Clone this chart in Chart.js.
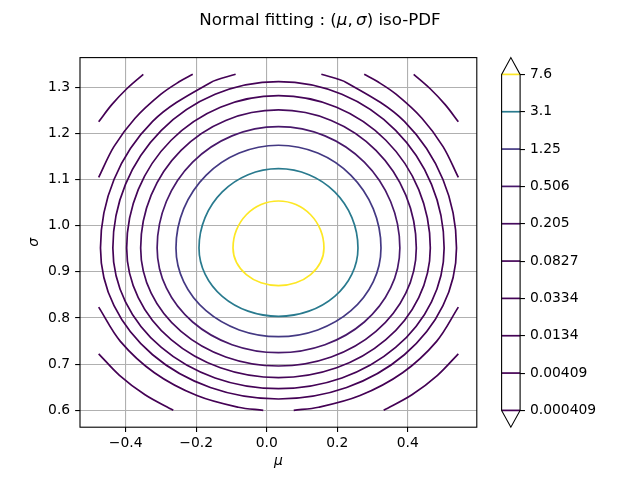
<!DOCTYPE html>
<html><head><meta charset="utf-8">
<script src="https://cdn.jsdelivr.net/npm/chart.js@4"></script>
<style>
html,body{margin:0;padding:0;background:#fff;}
#wrap{position:relative;width:640px;height:480px;overflow:hidden;}
#main{position:absolute;left:0;top:0;}
#cbar{position:absolute;left:480px;top:0;}
</style></head>
<body>
<div id="wrap">
<canvas id="main" width="640" height="480"></canvas>
<canvas id="cbar" width="160" height="480"></canvas>
</div>
<script>
// ---------------- data ----------------
const levels = [7.6, 3.1, 1.25, 0.506, 0.205, 0.0827, 0.0334, 0.0134, 0.00409, 0.000409];
const levelLabels = ['7.6','3.1','1.25','0.506','0.205','0.0827','0.0334','0.0134','0.00409','0.000409'];
const xTicks = [-0.4, -0.2, 0.0, 0.2, 0.4];
const xTickLabels = ['\u22120.4','\u22120.2','0.0','0.2','0.4'];
const yTicks = [0.6, 0.7, 0.8, 0.9, 1.0, 1.1, 1.2, 1.3];
const yTickLabels = ['0.6','0.7','0.8','0.9','1.0','1.1','1.2','1.3'];
const xLabel = '\u03bc';
const yLabel = '\u03c3';
const titleParts = [['Normal fitting : (', false], ['\u03bc', true], [',', false], [' ', false], ['\u03c3', true], [') iso-PDF', false]];

// iso-PDF contour lines, points (mu, sigma)
const iso7_6 = [[-0.0955,0.952],[-0.0857,0.9909],[-0.0577,1.0238],[-0.0159,1.0459],[0.0335,1.0536],[0.0829,1.0459],[0.1247,1.0238],[0.1527,0.9909],[0.1625,0.952],[0.1527,0.9207],[0.1247,0.8941],[0.0829,0.8763],[0.0335,0.8701],[-0.0159,0.8763],[-0.0577,0.8941],[-0.0857,0.9207]];
const iso3_1 = [[-0.192,0.952],[-0.1748,1.0177],[-0.126,1.0734],[-0.0528,1.1106],[0.0335,1.1237],[0.1198,1.1106],[0.193,1.0734],[0.2418,1.0177],[0.259,0.952],[0.2418,0.8953],[0.193,0.8471],[0.1198,0.815],[0.0335,0.8037],[-0.0528,0.815],[-0.126,0.8471],[-0.1748,0.8953]];
const iso1_25 = [[-0.2573,0.952],[-0.2352,1.0371],[-0.1721,1.1093],[-0.0778,1.1575],[0.0335,1.1744],[0.1448,1.1575],[0.2391,1.1093],[0.3022,1.0371],[0.3243,0.952],[0.3022,0.8783],[0.2391,0.8159],[0.1448,0.7742],[0.0335,0.7595],[-0.0778,0.7742],[-0.1721,0.8159],[-0.2352,0.8783]];
const iso0_506 = [[-0.3108,0.952],[-0.2846,1.0525],[-0.21,1.1378],[-0.0983,1.1947],[0.0335,1.2147],[0.1653,1.1947],[0.277,1.1378],[0.3516,1.0525],[0.3778,0.952],[0.3516,0.8651],[0.277,0.7914],[0.1653,0.7422],[0.0335,0.7249],[-0.0983,0.7422],[-0.21,0.7914],[-0.2846,0.8651]];
const iso0_205 = [[-0.3575,0.952],[-0.3277,1.0664],[-0.243,1.1634],[-0.1161,1.2282],[0.0335,1.2509],[0.1831,1.2282],[0.31,1.1634],[0.3947,1.0664],[0.4245,0.952],[0.3947,0.854],[0.31,0.771],[0.1831,0.7155],[0.0335,0.696],[-0.1161,0.7155],[-0.243,0.771],[-0.3277,0.854]];
const iso0_0827 = [[-0.3972,0.952],[-0.3644,1.0783],[-0.2711,1.1853],[-0.1313,1.2568],[0.0335,1.2819],[0.1983,1.2568],[0.3381,1.1853],[0.4314,1.0783],[0.4642,0.952],[0.4314,0.8444],[0.3381,0.7531],[0.1983,0.6921],[0.0335,0.6707],[-0.1313,0.6921],[-0.2711,0.7531],[-0.3644,0.8444]];
const iso0_0334 = [[-0.4364,0.952],[-0.4006,1.0898],[-0.2988,1.2067],[-0.1463,1.2848],[0.0335,1.3122],[0.2133,1.2848],[0.3658,1.2067],[0.4676,1.0898],[0.5034,0.952],[0.4676,0.8352],[0.3658,0.7362],[0.2133,0.67],[0.0335,0.6468],[-0.1463,0.67],[-0.2988,0.7362],[-0.4006,0.8352]];
const iso0_0134 = [[-0.0881,1.3282],[-0.1598,1.3101],[-0.3236,1.2261],[-0.4331,1.1003],[-0.4715,0.952],[-0.4331,0.8267],[-0.3236,0.7204],[-0.1598,0.6494],[0.0335,0.6245],[0.2268,0.6494],[0.3906,0.7204],[0.5001,0.8267],[0.5385,0.952],[0.5001,1.1003],[0.3906,1.2261],[0.2268,1.3101],[0.1551,1.3282]];
const iso0_00409 = [
  [[-0.4766,1.1047],[-0.4334,1.1714],[-0.3734,1.233],[-0.2999,1.2851],[-0.2485,1.3119],[-0.2097,1.3282]],
  [[0.2767,1.3282],[0.3155,1.3119],[0.3669,1.2851],[0.4404,1.233],[0.5004,1.1714],[0.5437,1.1047]],
  [[-0.4766,0.8236],[-0.4151,0.7495],[-0.3185,0.6815],[-0.1979,0.632],[-0.0804,0.6066],[-0.0097,0.6]],
  [[0.0767,0.6],[0.1474,0.6066],[0.2649,0.632],[0.3855,0.6815],[0.4821,0.7495],[0.5437,0.8236]]
];
const iso0_000409 = [
  [[-0.4766,1.2254],[-0.4394,1.2624],[-0.3969,1.2969],[-0.35,1.3282]],
  [[0.417,1.3282],[0.4639,1.2969],[0.5064,1.2624],[0.5437,1.2254]],
  [[-0.4766,0.7225],[-0.4176,0.6758],[-0.3451,0.6337],[-0.2649,0.6]],
  [[0.3319,0.6],[0.4121,0.6337],[0.4846,0.6758],[0.5437,0.7225]]
];

// ---------------- styles ----------------
const contourColors = ['#fde725','#297a8e','#443983','#48186b','#460b5e','#450558','#440356','#440255','#440154','#440154'];
const FONT = 'DejaVu Sans';
const TICK_SIZE = 13.89;
const TITLE_SIZE = 16.67;
const LINE_W = 1.7;
Chart.defaults.font.family = FONT;
Chart.defaults.color = '#000';

// closed loop: wrap one point before and one after so every drawn junction is smooth;
// the two wrap segments themselves are hidden
function closeLoop(a) { return [a[a.length - 1]].concat(a, [a[0], a[1]]); }
const contourPieces = [
  [closeLoop(iso7_6)], [closeLoop(iso3_1)], [closeLoop(iso1_25)], [closeLoop(iso0_506)],
  [closeLoop(iso0_205)], [closeLoop(iso0_0827)], [closeLoop(iso0_0334)],
  [iso0_0134], iso0_00409, iso0_000409
];
const closedCount = 7;
const datasets = [];
contourPieces.forEach((pieces, k) => pieces.forEach(p => {
  const n = p.length;
  const ds = {
    data: p.map(([x, y]) => ({x, y})),
    borderColor: contourColors[k], borderWidth: LINE_W,
    pointRadius: 0, pointHoverRadius: 0, tension: 0.34, fill: false
  };
  if (k < closedCount) {
    ds.segment = {
      borderColor: c => (c.p0DataIndex === 0 || c.p0DataIndex === n - 2) ? 'rgba(0,0,0,0)' : undefined
    };
  }
  datasets.push(ds);
}));

const framePlugin = {
  id: 'frame',
  afterDatasetsDraw(chart) {
    const {left, right, top, bottom} = chart.chartArea;
    const ctx = chart.ctx;
    ctx.save();
    ctx.strokeStyle = '#000';
    ctx.lineWidth = 1.1;
    ctx.strokeRect(left, top, right - left, bottom - top);
    ctx.restore();
  }
};

const titlePlugin = {
  id: 'figTitle',
  afterDraw(chart) {
    const ctx = chart.ctx;
    ctx.save();
    ctx.fillStyle = '#000';
    ctx.textBaseline = 'alphabetic';
    ctx.textAlign = 'left';
    const fonts = titleParts.map(([t, it]) => (it ? 'italic ' : '') + TITLE_SIZE + 'px "' + FONT + '"');
    const widths = titleParts.map(([t], i) => {
      ctx.font = fonts[i];
      return t === ' ' ? TITLE_SIZE * 0.2 : ctx.measureText(t).width;
    });
    const total = widths.reduce((s, w) => s + w, 0);
    let x = chart.width / 2 - total / 2;
    titleParts.forEach(([t], i) => {
      ctx.font = fonts[i];
      if (t !== ' ') ctx.fillText(t, x, 25);
      x += widths[i];
    });
    ctx.restore();
  }
};

new Chart(document.getElementById('main'), {
  type: 'line',
  data: {datasets},
  options: {
    responsive: false, animation: false, devicePixelRatio: 1,
    layout: {padding: {left: 0, top: 57.6, right: 163.2, bottom: 0}},
    plugins: {legend: {display: false}, tooltip: {enabled: false}, title: {display: false}},
    events: [],
    scales: {
      x: {
        type: 'linear', position: 'bottom', min: -0.5296, max: 0.5961, bounds: 'data',
        afterBuildTicks: s => { s.ticks = xTicks.map(v => ({value: v})); },
        afterFit: s => { s.height = 52.8; },
        ticks: {autoSkip: false, maxRotation: 0, minRotation: 0, padding: 3.5, color: '#000',
          font: {family: FONT, size: TICK_SIZE}, callback: (v, i) => xTickLabels[i]},
        grid: {color: '#b0b0b0', lineWidth: 1.1, tickLength: 4.86, tickColor: '#000', tickWidth: 1.1},
        border: {display: false},
        title: {display: true, text: xLabel, color: '#000',
          font: {family: FONT, size: TICK_SIZE, style: 'italic'}, padding: {top: 0, bottom: 10.3}}
      },
      y: {
        type: 'linear', position: 'left', min: 0.5634, max: 1.3644, bounds: 'data',
        afterBuildTicks: s => { s.ticks = yTicks.map(v => ({value: v})); },
        afterFit: s => { s.width = 80; },
        ticks: {autoSkip: false, padding: 5, color: '#000',
          font: {family: FONT, size: TICK_SIZE}, callback: (v, i) => yTickLabels[i]},
        grid: {color: '#b0b0b0', lineWidth: 1.1, tickLength: 4.86, tickColor: '#000', tickWidth: 1.1},
        border: {display: false},
        title: {display: true, text: yLabel, color: '#000',
          font: {family: FONT, size: TICK_SIZE, style: 'italic'}, padding: {top: 26.5, bottom: 0}}
      }
    }
  },
  plugins: [framePlugin, titlePlugin]
});

// ---------------- colorbar ----------------
const cbarOutline = {
  id: 'cbarOutline',
  afterDraw(chart) {
    const {left, right, top, bottom} = chart.chartArea;
    const ext = 0.05 * (bottom - top);
    const mid = (left + right) / 2;
    const ctx = chart.ctx;
    ctx.save();
    ctx.strokeStyle = '#000';
    ctx.lineWidth = 1.1;
    ctx.lineJoin = 'miter';
    ctx.beginPath();
    ctx.moveTo(left, top);
    ctx.lineTo(mid, top - ext);
    ctx.lineTo(right, top);
    ctx.lineTo(right, bottom);
    ctx.lineTo(mid, bottom + ext);
    ctx.lineTo(left, bottom);
    ctx.closePath();
    ctx.stroke();
    ctx.restore();
  }
};

const nLev = levels.length;
new Chart(document.getElementById('cbar'), {
  type: 'scatter',
  data: {datasets: levels.map((lv, k) => ({
    data: [{x: 0, y: nLev - 1 - k}, {x: 1, y: nLev - 1 - k}],
    showLine: true, borderColor: contourColors[k], borderWidth: LINE_W,
    pointRadius: 0, pointHoverRadius: 0, clip: false
  }))},
  options: {
    responsive: false, animation: false, devicePixelRatio: 1,
    layout: {padding: {left: 21.6, top: 74.4, bottom: 69.6, right: 0}},
    plugins: {legend: {display: false}, tooltip: {enabled: false}},
    events: [],
    scales: {
      x: {type: 'linear', min: 0, max: 1, display: false},
      y: {
        type: 'linear', position: 'right', min: 0, max: nLev - 1, bounds: 'data',
        afterBuildTicks: s => { s.ticks = levels.map((v, i) => ({value: i})); },
        afterFit: s => { s.width = 119.9; },
        ticks: {autoSkip: false, padding: 5, color: '#000',
          font: {family: FONT, size: TICK_SIZE}, callback: (v, i) => levelLabels[nLev - 1 - i]},
        grid: {drawOnChartArea: false, lineWidth: 1.1, tickLength: 4.86, tickColor: '#000', tickWidth: 1.1},
        border: {display: false}
      }
    }
  },
  plugins: [cbarOutline]
});
</script>
</body></html>
